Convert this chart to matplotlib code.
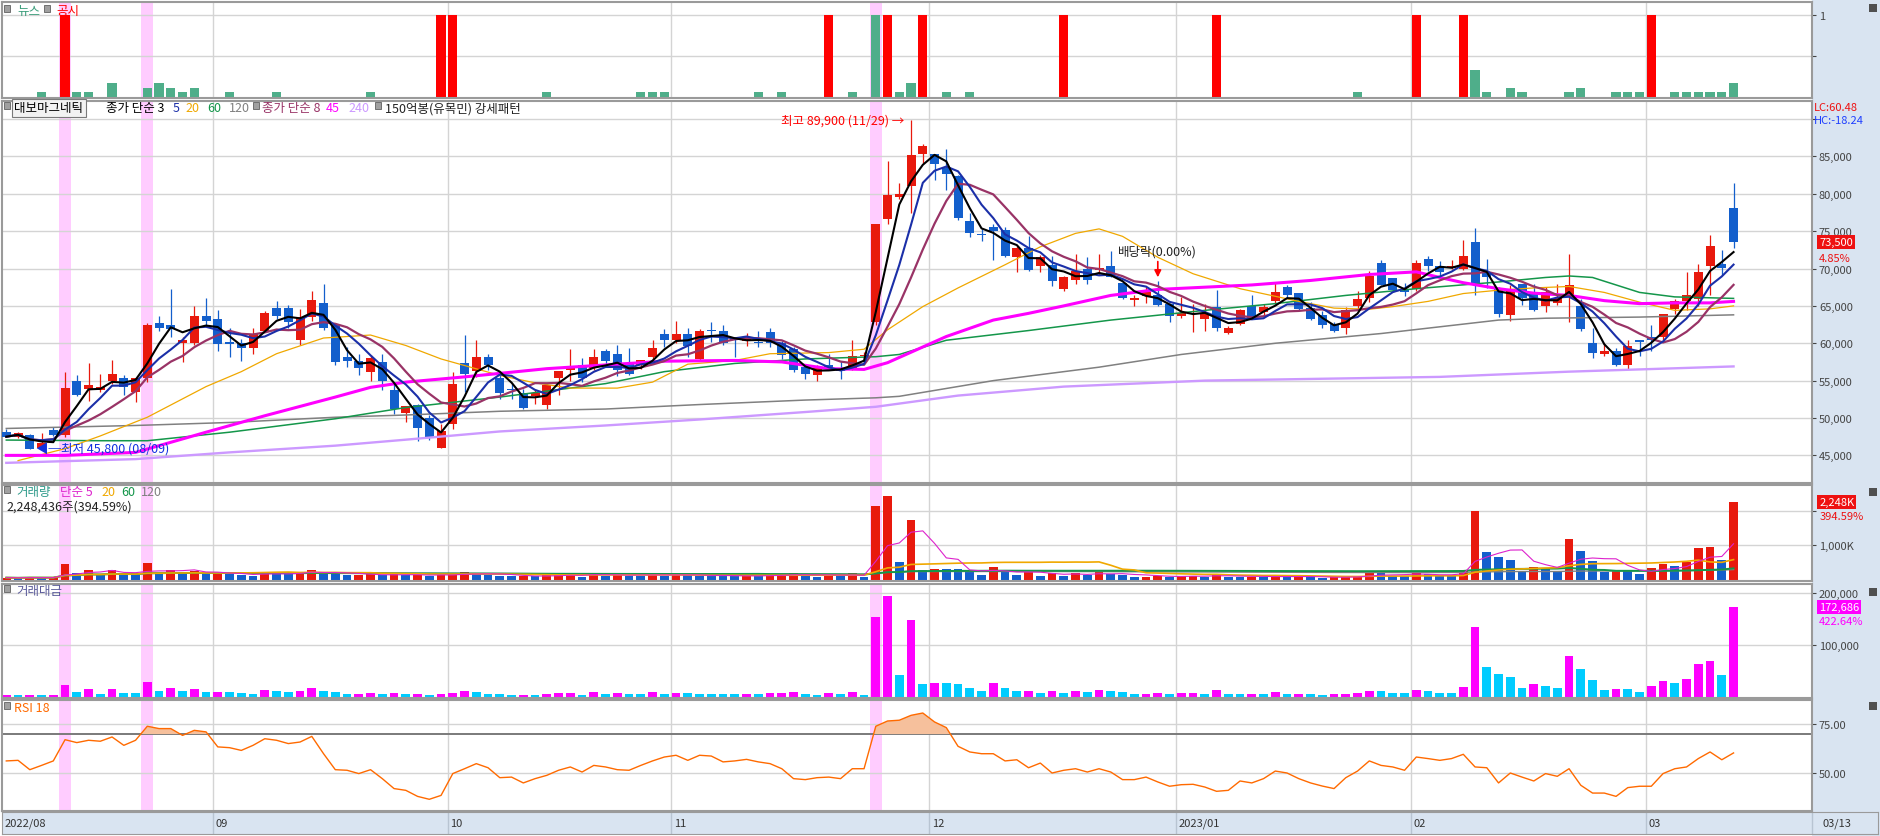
import matplotlib
matplotlib.use("Agg")
import matplotlib.pyplot as plt
import matplotlib.transforms as mtransforms
from matplotlib.patches import Rectangle
import numpy as np
import pandas as pd

plt.rcParams["font.family"] = ["Noto Sans CJK KR", "DejaVu Sans"]
plt.rcParams["axes.unicode_minus"] = False

# --- 일봉 데이터 (2022/08/05 ~ 2023/03/13, 차트에서 읽은 값) ---
OPEN = [48100, 47500, 47700, 46000, 48400, 47700, 55000, 53900, 53800, 55000,
        55400, 53500, 55400, 62700, 62500, 60000, 60000, 63700, 63200, 60200,
        60000, 59300, 61700, 64700, 64700, 60400, 63500, 65400, 62400, 58200,
        57600, 56100, 57500, 53800, 50700, 51700, 50000, 46000, 49200, 57300,
        56300, 58100, 55400, 53900, 53400, 53000, 51700, 55400, 56400, 57100,
        56700, 58900, 58500, 57300, 57100, 58200, 61300, 60400, 61200, 57900,
        61800, 61700, 60700, 60300, 60200, 61500, 60000, 59200, 56800, 55700,
        57100, 56700, 56500, 58300, 62900, 76600, 79500, 81000, 85300, 85300,
        83500, 82400, 76400, 74600, 75500, 75100, 71500, 72800, 70300, 70500,
        67200, 68500, 70000, 69800, 70400, 68100, 65800, 66300, 66400, 65300,
        63600, 63900, 63200, 64900, 61400, 62600, 65000, 64200, 65600, 67500,
        66700, 64700, 63800, 62600, 62000, 65000, 66100, 70800, 68700, 67300,
        67200, 71300, 70400, 70100, 69900, 73600, 69500, 67400, 63800, 67900,
        66700, 65000, 65400, 66300, 65000, 60000, 58600, 59000, 57100, 60400,
        60900, 60900, 64600, 65600, 65900, 70300, 70600, 78100]
HIGH = [48500, 48100, 47900, 48000, 48800, 56200, 55700, 57400, 55900, 57700,
        55700, 55400, 62700, 63700, 67200, 60900, 65000, 66000, 64400, 62000,
        60600, 62000, 64300, 65600, 65100, 64600, 67000, 67900, 62500, 59500,
        58600, 58400, 58600, 54600, 51600, 51900, 50400, 49200, 56100, 61100,
        60500, 58500, 55900, 54600, 53900, 53900, 54600, 56300, 59200, 58000,
        59200, 59200, 59700, 59400, 57800, 60500, 61900, 63000, 62100, 61900,
        62800, 62400, 60900, 61400, 61600, 62100, 60300, 59500, 57100, 57100,
        58600, 57600, 60500, 58800, 75900, 84400, 81500, 89900, 86700, 85300,
        86000, 82500, 77400, 75300, 76000, 75500, 73000, 74300, 71800, 71700,
        69000, 71900, 71500, 72000, 72300, 68100, 66400, 67500, 68300, 65400,
        66200, 65300, 65300, 67100, 62300, 64600, 66500, 65300, 68000, 67800,
        66700, 65500, 64300, 62900, 64900, 67000, 69600, 71100, 68700, 68000,
        71100, 71700, 71000, 71200, 73800, 75400, 71300, 67500, 67800, 67900,
        67900, 67500, 67900, 72000, 65900, 62000, 60000, 59300, 60400, 60400,
        62500, 63900, 65900, 69500, 70600, 74500, 72500, 81500]
LOW = [47400, 47300, 45800, 45900, 47600, 47500, 53000, 52300, 53500, 54600,
       53100, 52100, 54800, 61700, 60900, 57500, 59800, 62400, 59000, 58200,
       57600, 58600, 61500, 63300, 62100, 59800, 63000, 61800, 57100, 56800,
       55700, 55000, 53700, 50500, 49500, 46900, 47000, 46000, 48500, 53500,
       55500, 56400, 52600, 52600, 51200, 51900, 51200, 53100, 54900, 54800,
       56400, 57100, 55600, 55800, 56500, 57300, 59500, 60000, 58200, 57700,
       60200, 59700, 58200, 59600, 59500, 59500, 57900, 56100, 55200, 54900,
       56400, 55200, 56400, 57700, 62500, 76000, 79300, 77400, 84100, 81900,
       80500, 76500, 74200, 73700, 71200, 71500, 69500, 69700, 69500, 67700,
       67000, 67900, 67900, 69100, 68800, 65900, 65000, 65400, 65000, 62900,
       63400, 61500, 61700, 61700, 61200, 62400, 63300, 63700, 65300, 66000,
       64400, 63100, 62000, 61500, 61300, 64400, 65500, 67800, 66900, 66300,
       67000, 69600, 68900, 70000, 69800, 66400, 67400, 63500, 63000, 65100,
       64300, 64200, 65100, 62900, 61700, 58000, 58300, 56900, 56500, 58300,
       59000, 60400, 63900, 64500, 65000, 66400, 69100, 72700]
CLOSE = [47500, 48000, 45900, 46700, 47700, 54000, 53100, 54400, 54200, 55900,
         54100, 55300, 62500, 62000, 61900, 60500, 63600, 63000, 59900, 59900,
         59300, 61300, 64100, 63600, 62900, 63500, 65800, 62100, 57500, 57600,
         56700, 58000, 54900, 51200, 51600, 48600, 47400, 48200, 54500, 55900,
         58100, 57100, 53400, 53700, 51300, 53300, 54400, 56300, 56700, 55300,
         58200, 57600, 56400, 55900, 57800, 59300, 60400, 61200, 59600, 61700,
         61600, 60000, 60400, 60800, 60100, 60100, 58400, 56400, 55900, 56700,
         56500, 56300, 58300, 58400, 75900, 79800, 80000, 85200, 86400, 84000,
         82600, 76800, 74800, 74500, 75000, 71700, 72700, 69800, 71600, 68300,
         68900, 69700, 68400, 70100, 68800, 66000, 66100, 66900, 65100, 63600,
         64000, 64100, 64100, 62000, 62000, 64500, 63400, 64800, 66900, 66400,
         64600, 63200, 62400, 61600, 64400, 65900, 69000, 67800, 67100, 66800,
         70800, 70400, 69500, 70400, 71700, 68100, 68800, 63900, 67300, 66100,
         64400, 66800, 66000, 67800, 61900, 58700, 59000, 57100, 59600, 60200,
         60400, 63900, 65600, 66500, 69500, 73000, 70100, 73500]

# 거래량 (천주), 거래대금 (백만원)
VOLUME_K = [60, 50, 70, 55, 60, 450, 190, 290, 130, 290,
            160, 150, 480, 200, 290, 200, 260, 170, 175, 165,
            140, 110, 235, 200, 170, 200, 285, 195, 185, 125,
            130, 160, 125, 170, 135, 140, 100, 145, 170, 225,
            190, 125, 120, 95, 100, 95, 130, 160, 165, 90,
            185, 120, 150, 120, 115, 185, 115, 145, 140, 115,
            112, 110, 108, 115, 112, 145, 150, 185, 125, 90,
            155, 125, 185, 90, 2128, 2420, 517, 1747, 283, 312,
            310, 305, 215, 146, 371, 244, 146, 215, 117, 195,
            117, 195, 146, 215, 176, 146, 78, 80, 117, 78,
            117, 120, 78, 176, 78, 76, 78, 76, 146, 78,
            80, 78, 49, 78, 80, 117, 195, 193, 117, 115,
            195, 176, 117, 115, 244, 2010, 810, 664, 576, 264,
            371, 312, 264, 1190, 840, 547, 215, 244, 242, 176,
            342, 469, 400, 517, 927, 957, 576, 2248.436]
VALUE_M = [5000, 4800, 5200, 5000, 5300, 24800, 10800, 16600, 7000, 16600,
           8900, 8700, 29900, 12700, 18500, 12700, 16600, 10800, 11200, 10600,
           8900, 7000, 14600, 12700, 10800, 12700, 18500, 12700, 10800, 7000,
           7300, 8900, 7000, 8900, 7000, 7200, 5100, 7000, 8900, 12700,
           10800, 7000, 6800, 5100, 5300, 5100, 7000, 8900, 9200, 5100,
           10800, 7000, 8900, 7000, 6800, 10800, 7000, 8900, 8700, 7000,
           6900, 6800, 6700, 7000, 6800, 8900, 9100, 10800, 7000, 5100,
           8900, 7000, 10800, 5100, 154000, 194300, 43300, 148400, 26100, 28000,
           27800, 26100, 18500, 12700, 28000, 18500, 12700, 13000, 8900, 12700,
           8900, 12700, 10800, 14600, 12700, 10800, 7000, 7200, 8900, 7000,
           8900, 9100, 7000, 14600, 7000, 6800, 7000, 6800, 10800, 7000,
           7200, 7000, 5100, 7000, 7200, 8900, 12700, 12500, 8900, 8700,
           14600, 12700, 8900, 8700, 20400, 135000, 58600, 45200, 39500, 18500,
           26100, 22300, 18500, 79600, 54800, 33800, 14600, 16600, 16400, 10800,
           22300, 31800, 28000, 35700, 64300, 70000, 43300, 172686]
RSI18 = [56.2, 56.5, 51.7, 53.9, 56.2, 67.1, 65.6, 66.8, 66.3, 68.5,
         64.2, 66.8, 74.0, 72.8, 72.8, 69.3, 71.9, 71.1, 63.4, 63.0,
         61.6, 64.2, 67.6, 66.8, 65.1, 65.9, 68.8, 59.9, 51.7, 51.4,
         49.7, 51.7, 47.1, 42.0, 41.1, 38.0, 36.5, 38.5, 49.7, 52.2,
         54.8, 52.7, 47.6, 47.9, 44.9, 47.1, 48.8, 51.4, 53.1, 50.5,
         53.9, 53.1, 51.7, 51.4, 53.9, 56.2, 58.2, 59.1, 56.5, 59.1,
         58.7, 55.7, 56.2, 57.0, 55.7, 54.8, 52.2, 47.1, 46.6, 47.6,
         47.9, 47.1, 52.2, 52.2, 74.0, 76.7, 77.1, 79.6, 80.8, 76.2,
         73.3, 63.7, 60.8, 59.9, 59.9, 56.2, 56.8, 52.7, 55.1, 50.0,
         51.4, 52.2, 50.5, 52.2, 50.5, 46.6, 46.6, 47.9, 45.4, 43.2,
         44.0, 44.2, 42.8, 40.6, 41.1, 45.9, 44.9, 47.1, 51.0, 50.0,
         47.1, 44.9, 43.3, 42.0, 47.6, 51.0, 56.2, 53.9, 53.1, 51.4,
         58.2, 57.4, 56.5, 57.4, 59.6, 53.1, 52.7, 44.9, 50.0, 47.9,
         45.9, 49.7, 48.3, 52.2, 43.7, 39.7, 39.7, 38.0, 42.5, 43.2,
         43.2, 49.7, 52.2, 53.1, 57.4, 60.8, 56.8, 60.3]

# 장기 이평 (차트에서 읽은 점)
MA20_IDX = [1, 5, 8, 12, 17, 20, 23, 27, 31, 34, 37, 42, 45, 48, 52, 55, 58, 62, 65, 70,
            73, 75, 78, 81, 85, 88, 91, 93, 95, 98, 101, 105, 110, 113, 116, 118, 121, 124,
            127, 130, 133, 136, 139, 142, 145, 147]
MA20_VAL = [44300, 45900, 47600, 50100, 54200, 56200, 58600, 60700, 61100, 59700,
            57900, 55700, 54700, 54000, 54000, 54800, 57200, 57700, 58600, 58750,
            59200, 61800, 64900, 67400, 70500, 72900, 74700, 75300, 74300, 71500,
            69300, 67300, 65600, 64700, 64550, 64900, 65600, 66650, 67100, 67400,
            67600, 66800, 65500, 64400, 64600, 65000]
MA45_IDX = [0, 5, 11, 13, 17, 22, 28, 31, 34, 39, 46, 51, 56, 62, 66, 70, 73, 75, 80, 84,
            87, 90, 94, 98, 102, 106, 111, 116, 120, 122, 124, 127, 130, 133, 136, 139,
            142, 145, 147]
MA45_VAL = [45000, 45000, 45400, 46300, 48100, 50300, 52800, 54100, 54800, 55500,
            56600, 57100, 57600, 57700, 57500, 56600, 56500, 57400, 60900, 63100,
            64000, 65000, 66400, 67200, 67500, 67800, 68400, 69200, 69550, 68800,
            68100, 67300, 66700, 66400, 65700, 65300, 65400, 65400, 65600]
MA60_IDX = [0, 8, 12, 19, 28, 34, 42, 51, 56, 62, 68, 74, 76, 80, 87, 94, 102, 108, 114,
            120, 127, 131, 133, 135, 139, 142, 147]
MA60_VAL = [47050, 46960, 46960, 48100, 49900, 51400, 52800, 54600, 56200, 57300,
            57900, 58200, 58500, 60400, 61700, 63100, 64400, 65300, 66400, 67300,
            68200, 68800, 69000, 68800, 66800, 66200, 66000]
MA120_IDX = [0, 11, 19, 28, 34, 42, 51, 59, 68, 74, 76, 84, 93, 100, 108, 117, 127, 131, 139, 147]
MA120_VAL = [48600, 49000, 49400, 50100, 50400, 50900, 51200, 51800, 52400, 52700,
             52900, 55000, 56800, 58500, 60000, 61300, 63100, 63350, 63500, 63800]
MA240_IDX = [0, 11, 19, 28, 34, 42, 51, 59, 68, 74, 81, 90, 102, 122, 133, 147]
MA240_VAL = [44000, 44500, 45400, 46300, 47100, 48200, 49000, 49800, 50800, 51500,
             53000, 54200, 55000, 55500, 56200, 56900]

NEWS_IDX = [3, 6, 7, 9, 12, 13, 14, 15, 16, 19, 23, 31, 46, 54, 55, 56, 64, 66, 72, 74,
            76, 77, 80, 82, 115, 125, 126, 128, 129, 133, 134, 137, 138, 139, 142, 143,
            144, 145, 146, 147]
NEWS_CNT = [1, 1, 1, 3, 2, 3, 2, 1, 2, 1, 1, 1, 1, 1, 1, 1, 1, 1, 1, 18,
            1, 3, 1, 1, 1, 6, 1, 2, 1, 1, 2, 1, 1, 1, 1, 1, 1, 1, 1, 3]
DISCLOSURE_IDX = [5, 37, 38, 70, 75, 78, 90, 103, 120, 124, 140]
HIGHLIGHT_IDX = [5, 12, 74]          # 150억봉 강세패턴
MONTH_START = [18, 38, 57, 79, 100, 120, 140]
MONTH_LABEL = ["09", "10", "11", "12", "2023/01", "02", "03"]

# --- 색 ---
RED, BLUE = "#e8190d", "#135fcc"
MAGENTA, CYAN = "#ff00ff", "#00ccff"
GRID = "#d4d4d4"
SPINE = "#9a9a9a"
PINK = "#ffccff"
PANEL_BG = "#d9e4f1"
C_MA5, C_MA20, C_MA60, C_MA120 = "#1b2fa8", "#f0a800", "#14964a", "#808080"
C_MA8, C_MA45, C_MA240 = "#993366", "#ff00ff", "#cc99ff"

W, H = 1880, 837
fig = plt.figure(figsize=(W / 100, H / 100), dpi=100)
fig.patches.append(Rectangle((1812 / W, 0), (W - 1812) / W, 1, transform=fig.transFigure,
                             fc=PANEL_BG, ec="none", zorder=-5))


def px2i(px):
    return (px - 6.3) / 11.75


def ax_at(top, bottom, left=2, right=1812):
    return fig.add_axes([left / W, 1 - bottom / H, (right - left) / W, (bottom - top) / H])


def set_ylim_px(ax, top_px, bottom_px, p1, v1, p2, v2):
    k = (v2 - v1) / (p2 - p1)
    ax.set_ylim(v1 + (bottom_px - p1) * k, v1 + (top_px - p1) * k)


def base(ax, levels, labels):
    ax.set_xlim(px2i(2), px2i(1812))
    ax.set_xticks([])
    for s in ax.spines.values():
        s.set_color(SPINE)
        s.set_linewidth(1.5)
    for lv in levels:
        ax.axhline(lv, color=GRID, lw=1, zorder=0.5)
    for m in MONTH_START:
        ax.axvline(m - 0.45, color=GRID, lw=1, zorder=0.5)
    for i in HIGHLIGHT_IDX:
        ax.axvspan(i - 0.5, i + 0.5, color=PINK, lw=0, zorder=0.2)
    ax.yaxis.tick_right()
    ax.set_yticks(levels)
    ax.set_yticklabels(labels)
    ax.tick_params(axis="y", length=3, pad=2, labelsize=8, colors="#444444")


def close_box(y_px):
    fig.patches.append(Rectangle((1869 / W, 1 - (y_px + 8) / H), 8 / W, 8 / H,
                                 transform=fig.transFigure, fc="#505050", ec="none",
                                 zorder=5))


x = np.arange(len(CLOSE))
o, h, l, c = (np.array(a, float) for a in (OPEN, HIGH, LOW, CLOSE))
vol = np.array(VOLUME_K, float)
val = np.array(VALUE_M, float)
rsi = np.array(RSI18, float)

# --- 뉴스 / 공시 ---
ax_n = ax_at(3, 99)
base(ax_n, [9, 18], ["", "1"])
set_ylim_px(ax_n, 3, 99, 98, 0, 16, 18)
ax_n.bar(NEWS_IDX, NEWS_CNT, width=0.78, color="#4fae8a", zorder=2)
ax_n.bar(DISCLOSURE_IDX, [18] * len(DISCLOSURE_IDX), width=0.78, color="#ff0000", zorder=2)

# --- 가격 ---
ax_p = ax_at(102, 484)
levels = list(range(45000, 90001, 5000))
base(ax_p, levels, [f"{v:,}" if v < 90000 else "" for v in levels])
set_ylim_px(ax_p, 102, 484, 120, 90000, 419, 50000)
cc = np.where(c >= o, RED, BLUE)
ax_p.vlines(x, l, h, colors=cc, lw=0.9, zorder=2.9)
ax_p.bar(x, np.maximum(np.abs(c - o), 130), bottom=np.minimum(o, c), width=0.76,
         color=cc, zorder=3)

s = pd.Series(c)
ax_p.plot(MA240_IDX, MA240_VAL, color=C_MA240, lw=1.7, zorder=3.5)
ax_p.plot(MA120_IDX, MA120_VAL, color=C_MA120, lw=1.1, zorder=3.5)
ax_p.plot(MA60_IDX, MA60_VAL, color=C_MA60, lw=1.1, zorder=3.5)
ax_p.plot(MA20_IDX, MA20_VAL, color=C_MA20, lw=0.9, zorder=3.5)
ax_p.plot(MA45_IDX, MA45_VAL, color=C_MA45, lw=2.2, zorder=3.6)
ax_p.plot(x, s.rolling(8, min_periods=1).mean(), color=C_MA8, lw=1.6, zorder=3.7)
ax_p.plot(x, s.rolling(5, min_periods=1).mean(), color=C_MA5, lw=1.5, zorder=3.8)
ax_p.plot(x, s.rolling(3, min_periods=1).mean(), color="black", lw=1.5, zorder=3.9)

i_hi = int(np.argmax(h))
i_lo = int(np.argmin(l))
ax_p.text(i_hi - 0.55, h[i_hi], "최고 89,900 (11/29) →", ha="right", va="center",
          color="#ff0000", fontsize=9, zorder=6)
ax_p.text(i_lo + 0.55, l[i_lo], "◀─최저 45,800 (08/09)", ha="left", va="center",
          color="#1030e0", fontsize=9, zorder=6)
ax_p.text(98, 72350, "배당락(0.00%)", ha="center", va="center", color="#222222",
          fontsize=9, zorder=6)
ax_p.annotate("", xy=(98, 68450), xytext=(98, 71300),
              arrowprops=dict(arrowstyle="-|>", color="#ff0000", lw=1.2,
                              mutation_scale=10), zorder=6)

bl = mtransforms.blended_transform_factory(ax_p.transAxes, ax_p.transData)
ax_p.text(1.004, c[-1], f"{int(c[-1]):,}", transform=bl, ha="left", va="center",
          color="white", fontsize=8, zorder=7,
          bbox=dict(boxstyle="square,pad=0.18", fc="#ee1111", ec="none"))
ax_p.annotate("4.85%", xy=(1.004, c[-1]), xycoords=bl, xytext=(0, -11),
              textcoords="offset points", ha="left", va="center", color="#ee1111",
              fontsize=8, annotation_clip=False)
fig.text(1814 / W, 1 - 108 / H, "LC:60.48", color="#ee1111", fontsize=8, va="center")
fig.text(1814 / W, 1 - 121 / H, "HC:-18.24", color="#1f3fff", fontsize=8, va="center")

# --- 거래량 ---
ax_v = ax_at(486, 582)
base(ax_v, [1000, 2000], ["1,000K", ""])
set_ylim_px(ax_v, 486, 582, 580.7, 0, 546.3, 1000)
vcol = np.where(np.diff(vol, prepend=0) >= 0, RED, BLUE)
ax_v.bar(x, vol, width=0.74, color=vcol, zorder=2)
sv = pd.Series(vol)
ax_v.plot(x, sv.rolling(120, min_periods=1).mean(), color=C_MA120, lw=1.0, zorder=3)
ax_v.plot(x, sv.rolling(60, min_periods=1).mean(), color=C_MA60, lw=1.4, zorder=3)
ax_v.plot(x, sv.rolling(20, min_periods=1).mean(), color=C_MA20, lw=1.2, zorder=3)
ax_v.plot(x, sv.rolling(5, min_periods=1).mean(), color="#dd22cc", lw=0.8, zorder=3)
blv = mtransforms.blended_transform_factory(ax_v.transAxes, ax_v.transData)
ax_v.text(1.004, vol[-1], f"{vol[-1]:,.0f}K", transform=blv, ha="left", va="center",
          color="white", fontsize=8, zorder=7,
          bbox=dict(boxstyle="square,pad=0.18", fc="#ee1111", ec="none"))
ax_v.annotate("394.59%", xy=(1.004, vol[-1]), xycoords=blv, xytext=(0, -10),
              textcoords="offset points", ha="left", va="center", color="#ee1111",
              fontsize=8, annotation_clip=False)

# --- 거래대금 ---
ax_m = ax_at(585, 699)
base(ax_m, [100000, 200000], ["100,000", "200,000"])
set_ylim_px(ax_m, 585, 699, 698.7, 0, 646.3, 100000)
mcol = np.where(np.diff(val, prepend=0) >= 0, MAGENTA, CYAN)
ax_m.bar(x, val, width=0.74, color=mcol, zorder=2)
blm = mtransforms.blended_transform_factory(ax_m.transAxes, ax_m.transData)
ax_m.text(1.004, val[-1], f"{val[-1]:,.0f}", transform=blm, ha="left", va="center",
          color="white", fontsize=8, zorder=7,
          bbox=dict(boxstyle="square,pad=0.18", fc=MAGENTA, ec="none"))
ax_m.annotate("422.64%", xy=(1.004, val[-1]), xycoords=blm, xytext=(0, -10),
              textcoords="offset points", ha="left", va="center", color=MAGENTA,
              fontsize=8, annotation_clip=False)

# --- RSI ---
ax_r = ax_at(701, 812)
base(ax_r, [50, 75], ["50.00", "75.00"])
set_ylim_px(ax_r, 701, 812, 774, 50, 725.3, 75)
ax_r.axhline(70, color="#7a7a7a", lw=1.4, zorder=1)
ax_r.fill_between(x, 70, rsi, where=rsi > 70, interpolate=True, color="#f6c09c",
                  lw=0, zorder=2)
ax_r.plot(x, rsi, color="#ff6a00", lw=1.0, zorder=3)

# --- 날짜 축 ---
ax_x = ax_at(813, 835, 2, 1878)
ax_x.set_facecolor(PANEL_BG)
ax_x.set_xlim(px2i(2), px2i(1878))
ax_x.set_ylim(0, 1)
ax_x.set_xticks([])
ax_x.set_yticks([])
for sp in ax_x.spines.values():
    sp.set_color(SPINE)
for m, lab in zip(MONTH_START, MONTH_LABEL):
    ax_x.axvline(m - 0.45, color="#b8c4d2", lw=1)
    ax_x.text(m - 0.2, 0.5, lab, ha="left", va="center", fontsize=8, color="#333333")
ax_x.axvline(px2i(1812), color="#b8c4d2", lw=1)
ax_x.text(px2i(5), 0.5, "2022/08", ha="left", va="center", fontsize=8, color="#333333")
ax_x.text(px2i(1822), 0.5, "03/13", ha="left", va="center", fontsize=8, color="#333333")


# --- 범례 텍스트 (픽셀 위치) ---
def label(x_px, y_px, txt, col, fs=9, **kw):
    fig.text(x_px / W, 1 - y_px / H, txt, color=col, fontsize=fs, va="center",
             ha="left", zorder=8, **kw)


def square(x_px, y_px):
    fig.patches.append(Rectangle(((x_px) / W, 1 - (y_px + 3) / H), 6 / W, 7 / H,
                                 transform=fig.transFigure, fc="#a0a0a0", ec="#606060",
                                 lw=0.6, zorder=8))


square(4, 10)
label(17, 12, "뉴스", "#3a9d7a")
square(44, 10)
label(56, 12, "공시", "#ff0000")

square(4, 107)
label(14, 109, "대보마그네틱", "black",
      bbox=dict(boxstyle="square,pad=0.2", fc="#f2f2f2", ec="#7a7a7a", lw=0.8))
label(106, 109, "종가 단순 3", "black")
label(173, 109, "5", C_MA5)
label(185, 109, "20", C_MA20)
label(207, 109, "60", C_MA60)
label(229, 109, "120", C_MA120)
square(253, 107)
label(262, 109, "종가 단순 8", C_MA8)
label(326, 109, "45", C_MA45)
label(348, 109, "240", C_MA240)
square(375, 107)
label(385, 109, "150억봉(유목민) 강세패턴", "#222222")

square(4, 491)
label(16, 493, "거래량", "#2e9a8a")
label(60, 493, "단순 5", "#dd22cc")
label(101, 493, "20", C_MA20)
label(121, 493, "60", C_MA60)
label(141, 493, "120", C_MA120)
label(6, 507, "2,248,436주(394.59%)", "#222222")

square(4, 590)
label(16, 592, "거래대금", "#5a5a9a")

square(4, 707)
label(14, 709, "RSI 18", "#ff6a00")

for yb in (5, 489, 589, 703):
    close_box(yb)

fig.savefig("out.png", dpi=100)
